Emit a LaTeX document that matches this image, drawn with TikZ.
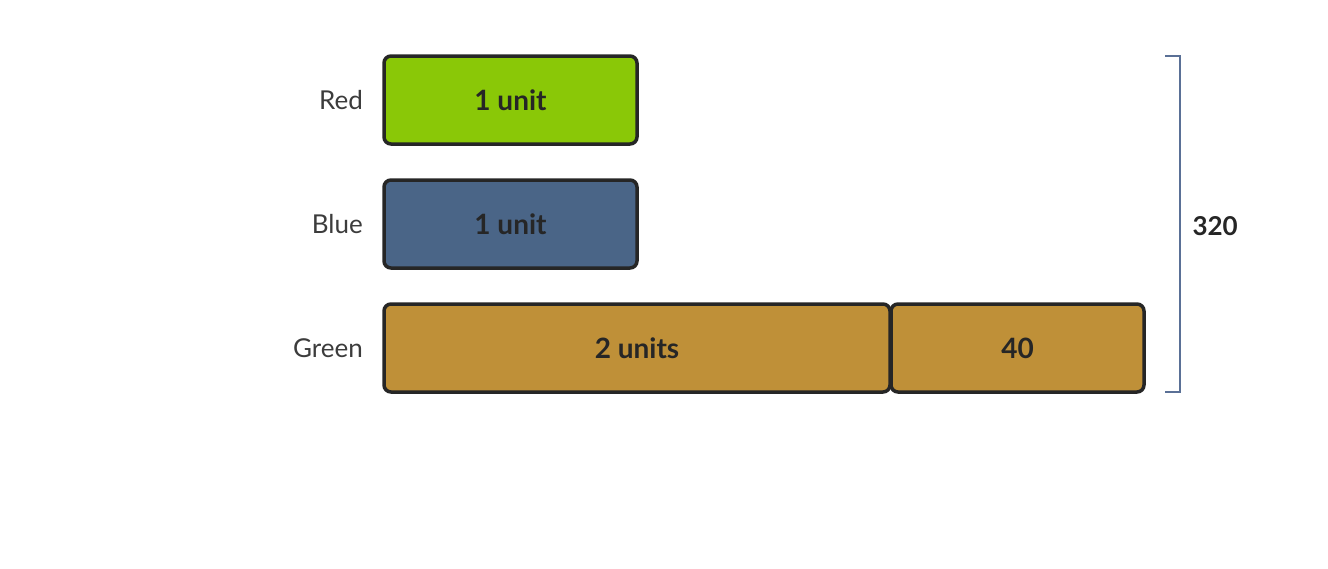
\documentclass[tikz,border=0pt]{standalone}
\usepackage{fontspec}
\setmainfont{Lato}
\usetikzlibrary{positioning}
\definecolor{redbar}{HTML}{8AC807}
\definecolor{bluebar}{HTML}{4A6587}
\definecolor{greenbar}{HTML}{BF9038}
\definecolor{ink}{HTML}{262626}
\definecolor{bracketcol}{HTML}{5A7096}

\begin{document}
\begin{tikzpicture}[
      x=1pt, y=-1pt,
      bar/.style={rectangle, rounded corners=7pt, draw=ink, line width=3.5pt, outer sep=0pt, minimum height=88pt, anchor=north west, inner sep=0pt, text=ink, font=\fontsize{28}{32}\selectfont\bfseries},
      lbl/.style={anchor=east, text=ink!90, inner sep=0pt, font=\fontsize{26}{30}\selectfont},
      bracket/.style={draw=bracketcol, line width=2.8pt}
      ]
      \useasboundingbox (0,0) rectangle (1328,568);
      \node[bar, fill=redbar, minimum width=253pt] (red) at (384,56) {1 unit};
      \node[bar, fill=bluebar, minimum width=253pt] (blue) at (384,180) {1 unit};
      \node[bar, fill=greenbar, minimum width=506pt] (green) at (384,304) {2 units};
      \node[bar, fill=greenbar, minimum width=253pt] (extra) at (891,304) {40};
      \node[lbl, left=21pt of red] (redlabel) {Red};
      \node[lbl, left=21pt of blue] (bluelabel) {Blue};
      \node[lbl, left=21pt of green] (greenlabel) {Green};
      % bracket over all three bars
      \coordinate (btop) at (1165,56);
      \coordinate (bbot) at (1165,392);
      \draw[bracket] (btop) -- ++(15,0) |- (bbot);
      \node[text=ink, font=\fontsize{26}{30}\selectfont\bfseries, anchor=west] (total) at (1189,226) {320};
    \end{tikzpicture}
\end{document}
